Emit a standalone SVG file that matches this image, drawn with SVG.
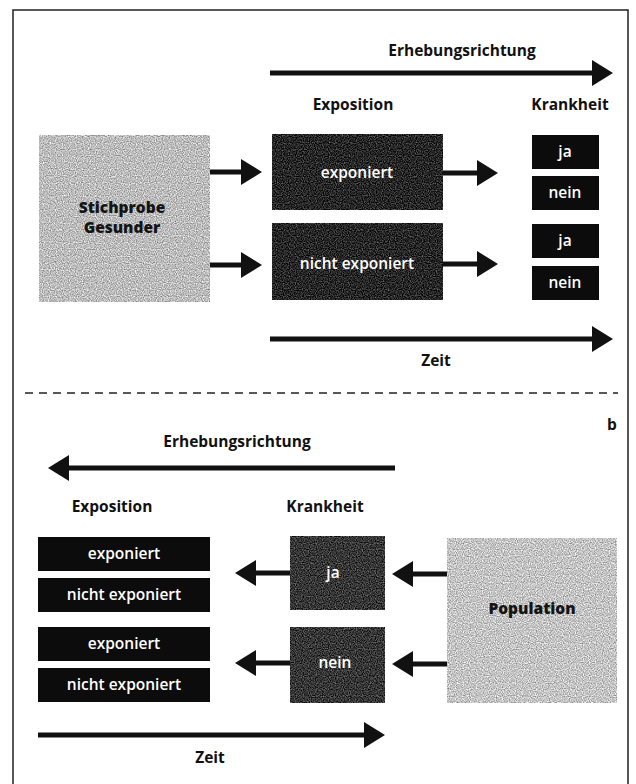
<svg xmlns="http://www.w3.org/2000/svg" width="636" height="784" viewBox="0 0 636 784">
<style>
  text { font-family: "Open Sans", "Liberation Sans", sans-serif; text-anchor: middle; }
  .h { font-size: 15.5px; font-weight: 700; fill: #111; }
  .lbl { font-size: 15.5px; font-weight: 600; fill: #fff; }
  .dlbl { font-size: 15.5px; font-weight: 800; fill: #141414; }
  .dark { fill: #262626; filter: url(#grain); }
  .mid { fill: #363636; filter: url(#grain); }
  .light { fill: #bcbcbc; filter: url(#grain); }
  .solid { fill: #0c0c0c; }
  .arr { stroke: #111; stroke-width: 5; fill: none; marker-end: url(#head); }
</style>
<defs>
  <filter id="grain" x="0" y="0" width="1" height="1" color-interpolation-filters="sRGB">
    <feTurbulence type="fractalNoise" baseFrequency="0.85" numOctaves="1" seed="7" result="t"/>
    <feColorMatrix in="t" type="matrix" values="1 0 0 0 0  1 0 0 0 0  1 0 0 0 0  0 0 0 0 1" result="g"/>
    <feComposite in="SourceGraphic" in2="g" operator="arithmetic" k1="0" k2="1" k3="0.9" k4="-0.45" result="m"/>
    <feComposite in="m" in2="SourceAlpha" operator="in"/>
  </filter>
  <marker id="head" markerUnits="userSpaceOnUse" markerWidth="22" markerHeight="26" refX="8" refY="13" orient="auto" overflow="visible">
    <path d="M0,0 L21,13 L0,26 Z" fill="#111"/>
  </marker>
</defs>
<rect width="636" height="784" fill="#fff"/>
<path d="M13,790 V10 H628 V790" fill="none" stroke="#222" stroke-width="1.5"/>

<!-- Part a -->
<g id="a-labels">
  <text class="h" x="462" y="56">Erhebungsrichtung</text>
  <text class="h" x="353" y="110">Exposition</text>
  <text class="h" x="570" y="110">Krankheit</text>
  <text class="h" x="436" y="366">Zeit</text>
</g>
<g id="stichprobe">
  <rect class="light" x="39" y="135" width="171" height="167"/>
  <text class="dlbl" x="122" y="213">Stichprobe</text>
  <text class="dlbl" x="122" y="233">Gesunder</text>
</g>
<g id="exponiert-a">
  <rect class="dark" x="272" y="134" width="171" height="76"/>
  <text class="lbl" x="357" y="178">exponiert</text>
</g>
<g id="nicht-exponiert-a">
  <rect class="dark" x="272" y="223" width="171" height="77"/>
  <text class="lbl" x="357" y="269">nicht exponiert</text>
</g>
<g id="ja1-a">
  <rect class="solid" x="532" y="135" width="67" height="34"/>
  <text class="lbl" x="565" y="157">ja</text>
</g>
<g id="nein1-a">
  <rect class="solid" x="532" y="176" width="67" height="34"/>
  <text class="lbl" x="565" y="198">nein</text>
</g>
<g id="ja2-a">
  <rect class="solid" x="532" y="224" width="67" height="34"/>
  <text class="lbl" x="565" y="246">ja</text>
</g>
<g id="nein2-a">
  <rect class="solid" x="532" y="266" width="67" height="34"/>
  <text class="lbl" x="565" y="288">nein</text>
</g>

<line x1="25" y1="393" x2="618" y2="393" stroke="#222" stroke-width="1.6" stroke-dasharray="8,6"/>

<!-- Part b -->
<g id="b-labels">
  <text class="h" x="612" y="430">b</text>
  <text class="h" x="237" y="447">Erhebungsrichtung</text>
  <text class="h" x="112" y="512">Exposition</text>
  <text class="h" x="325" y="512">Krankheit</text>
  <text class="h" x="210" y="763">Zeit</text>
</g>
<g id="exponiert-b1">
  <rect class="solid" x="38" y="537" width="172" height="34"/>
  <text class="lbl" x="124" y="559">exponiert</text>
</g>
<g id="nicht-exponiert-b1">
  <rect class="solid" x="38" y="578" width="172" height="34"/>
  <text class="lbl" x="124" y="600">nicht exponiert</text>
</g>
<g id="exponiert-b2">
  <rect class="solid" x="38" y="627" width="172" height="34"/>
  <text class="lbl" x="124" y="649">exponiert</text>
</g>
<g id="nicht-exponiert-b2">
  <rect class="solid" x="38" y="668" width="172" height="34"/>
  <text class="lbl" x="124" y="690">nicht exponiert</text>
</g>
<g id="ja-b">
  <rect class="mid" x="290" y="536" width="95" height="74"/>
  <text class="lbl" x="333" y="578">ja</text>
</g>
<g id="nein-b">
  <rect class="mid" x="290" y="627" width="95" height="76"/>
  <text class="lbl" x="335" y="668">nein</text>
</g>
<g id="population">
  <rect class="light" x="447" y="538" width="170" height="165" style="fill:#c4c4c4"/>
  <text class="dlbl" x="532" y="614">Population</text>
</g>

<g id="connectors">
  <line class="arr" x1="270" y1="73" x2="600" y2="73"/>
  <line class="arr" x1="270" y1="339" x2="600" y2="339"/>
  <line class="arr" x1="210" y1="172" x2="249" y2="172"/>
  <line class="arr" x1="210" y1="265" x2="249" y2="265"/>
  <line class="arr" x1="443" y1="173" x2="485" y2="173"/>
  <line class="arr" x1="443" y1="264" x2="485" y2="264"/>
  <line class="arr" x1="395" y1="468" x2="61" y2="468"/>
  <line class="arr" x1="290" y1="573" x2="248" y2="573"/>
  <line class="arr" x1="290" y1="663" x2="248" y2="663"/>
  <line class="arr" x1="447" y1="574" x2="405" y2="574"/>
  <line class="arr" x1="447" y1="664" x2="405" y2="664"/>
  <line class="arr" x1="38" y1="735" x2="372" y2="735"/>
</g>
</svg>
